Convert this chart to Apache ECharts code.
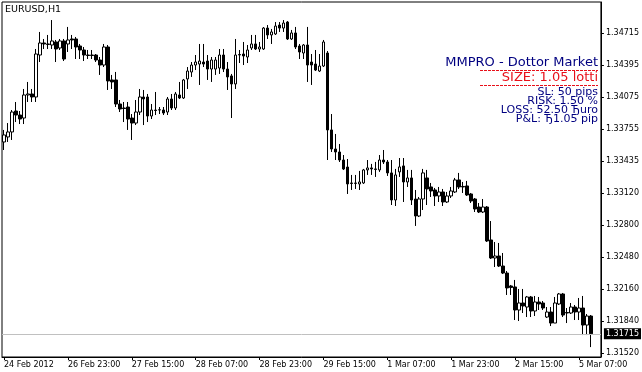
<!DOCTYPE html>
<html><head><meta charset="utf-8">
<script src="https://cdn.jsdelivr.net/npm/echarts@6/dist/echarts.min.js"></script>
<style>html,body{margin:0;padding:0;background:#fff}#c{width:642px;height:372px}</style>
</head><body><div id="c"></div>
<script>
const symbolTitle = 'EURUSD,H1';
const open = [1.33629,1.33679,1.33729,1.33938,1.33898,1.33868,1.34098,1.34108,1.34078,1.34497,
1.34617,1.34602,1.34597,1.34627,1.34567,1.34637,1.34607,1.34657,1.34657,1.34587,
1.34547,1.34497,1.34492,1.34497,1.34447,1.34397,1.34577,1.34248,1.34248,1.34008,
1.33968,1.33978,1.33868,1.33818,1.33928,1.34078,1.34078,1.33888,1.33948,1.33948,
1.33948,1.33928,1.34058,1.33968,1.34098,1.34068,1.34258,1.34327,1.34397,1.34407,
1.34427,1.34437,1.34357,1.34357,1.34367,1.34497,1.34357,1.34288,1.34208,1.34497,
1.34507,1.34477,1.34567,1.34607,1.34557,1.34557,1.34766,1.34697,1.34707,1.34796,
1.34766,1.34826,1.34657,1.34717,1.34587,1.34517,1.34597,1.34427,1.34407,1.34337,
1.34387,1.34517,1.33749,1.33559,1.33529,1.33449,1.33379,1.33220,1.33215,1.33210,
1.33220,1.33350,1.33370,1.33360,1.33350,1.33449,1.33429,1.33320,1.33050,1.33330,
1.33390,1.33230,1.33270,1.33060,1.32890,1.33060,1.33270,1.33180,1.33150,1.33090,
1.33130,1.33030,1.33090,1.33130,1.33250,1.33185,1.33190,1.33110,1.33060,1.32980,
1.32930,1.32980,1.32651,1.32471,1.32491,1.32391,1.32321,1.32192,1.32182,1.31952,
1.32022,1.31982,1.32082,1.31942,1.32032,1.32022,1.31882,1.31932,1.31822,1.32012,
1.32112,1.31927,1.31922,1.31982,1.31932,1.31972,1.31802,1.31892];
const close = [1.33699,1.33729,1.33928,1.33898,1.33858,1.34098,1.34108,1.34078,1.34507,1.34617,
1.34607,1.34607,1.34637,1.34557,1.34637,1.34457,1.34647,1.34647,1.34577,1.34547,
1.34497,1.34492,1.34497,1.34447,1.34397,1.34577,1.34238,1.34228,1.34008,1.33958,
1.33963,1.33858,1.33818,1.33928,1.34078,1.34058,1.33888,1.33948,1.33943,1.33951,
1.33918,1.34058,1.33968,1.34108,1.34068,1.34248,1.34337,1.34397,1.34427,1.34437,
1.34407,1.34357,1.34447,1.34447,1.34497,1.34357,1.34278,1.34208,1.34497,1.34502,
1.34487,1.34547,1.34607,1.34557,1.34577,1.34766,1.34697,1.34727,1.34786,1.34766,
1.34816,1.34657,1.34717,1.34577,1.34527,1.34597,1.34397,1.34397,1.34347,1.34387,
1.34627,1.33749,1.33559,1.33529,1.33449,1.33359,1.33210,1.33215,1.33220,1.33230,
1.33350,1.33370,1.33360,1.33355,1.33449,1.33429,1.33320,1.33050,1.33300,1.33380,
1.33230,1.33270,1.33050,1.32890,1.33060,1.33320,1.33160,1.33140,1.33090,1.33130,
1.33030,1.33090,1.33140,1.33250,1.33180,1.33180,1.33100,1.33040,1.32960,1.32930,
1.32980,1.32641,1.32471,1.32491,1.32391,1.32321,1.32172,1.32177,1.31952,1.32022,
1.31992,1.32082,1.31942,1.32032,1.32012,1.31972,1.31932,1.31822,1.32022,1.32112,
1.31902,1.31922,1.31982,1.31932,1.31972,1.31802,1.31892,1.31715];
const low = [1.33549,1.33629,1.33649,1.33828,1.33808,1.33808,1.34028,1.34028,1.34028,1.34427,
1.34557,1.34557,1.34557,1.34427,1.34547,1.34437,1.34527,1.34557,1.34457,1.34457,
1.34437,1.34457,1.34457,1.34427,1.34298,1.34377,1.34148,1.34158,1.33978,1.33928,
1.33828,1.33749,1.33649,1.33798,1.33898,1.33798,1.33828,1.33858,1.33898,1.33908,
1.33898,1.33898,1.33948,1.33948,1.34058,1.34058,1.34158,1.34278,1.34347,1.34198,
1.34377,1.34248,1.34228,1.34298,1.34308,1.34327,1.34148,1.33868,1.34158,1.34417,
1.34397,1.34417,1.34547,1.34547,1.34527,1.34547,1.34657,1.34607,1.34697,1.34727,
1.34727,1.34647,1.34647,1.34557,1.34457,1.34457,1.34228,1.34198,1.34337,1.34327,
1.34377,1.33449,1.33529,1.33449,1.33429,1.33349,1.33110,1.33150,1.33160,1.33150,
1.33210,1.33300,1.33300,1.33280,1.33330,1.33409,1.33290,1.33000,1.32990,1.33280,
1.33030,1.33180,1.33000,1.32791,1.32880,1.32950,1.33000,1.33080,1.32990,1.33030,
1.32990,1.33020,1.33070,1.33120,1.33160,1.33120,1.33090,1.33020,1.32930,1.32920,
1.32920,1.32631,1.32461,1.32381,1.32381,1.32311,1.32102,1.32102,1.31852,1.31842,
1.31922,1.31882,1.31882,1.31892,1.31952,1.31952,1.31872,1.31792,1.31822,1.32002,
1.31882,1.31822,1.31912,1.31852,1.31852,1.31702,1.31702,1.31582];
const high = [1.33749,1.33818,1.33948,1.34028,1.33938,1.34158,1.34228,1.34158,1.34557,1.34727,
1.34657,1.34697,1.34846,1.34647,1.34657,1.34657,1.34777,1.34697,1.34677,1.34607,
1.34577,1.34547,1.34547,1.34507,1.34477,1.34607,1.34597,1.34298,1.34328,1.34048,
1.34028,1.34028,1.33908,1.34048,1.34158,1.34148,1.34108,1.34008,1.34128,1.33978,
1.33978,1.34078,1.34108,1.34128,1.34228,1.34258,1.34377,1.34427,1.34497,1.34607,
1.34607,1.34497,1.34477,1.34477,1.34557,1.34557,1.34427,1.34308,1.34657,1.34547,
1.34627,1.34597,1.34697,1.34697,1.34627,1.34776,1.34796,1.34757,1.34826,1.34826,
1.34846,1.34836,1.34747,1.34777,1.34607,1.34607,1.34777,1.34507,1.34547,1.34507,
1.34647,1.34537,1.33908,1.33709,1.33609,1.33499,1.33459,1.33300,1.33300,1.33340,
1.33360,1.33449,1.33410,1.33430,1.33499,1.33549,1.33449,1.33449,1.33360,1.33469,
1.33469,1.33350,1.33350,1.33150,1.33080,1.33360,1.33350,1.33220,1.33170,1.33180,
1.33160,1.33130,1.33180,1.33270,1.33320,1.33230,1.33240,1.33120,1.33070,1.33020,
1.33060,1.32990,1.32840,1.32631,1.32621,1.32521,1.32341,1.32202,1.32252,1.32162,
1.32162,1.32092,1.32092,1.32092,1.32082,1.32042,1.31982,1.31982,1.32082,1.32122,
1.32122,1.31972,1.32022,1.32002,1.32072,1.32092,1.31912,1.31902];
const xTickIndex = [0,16,32,48,64,80,96,112,128,144];
const xTickLabels = ['24 Feb 2012','26 Feb 23:00','27 Feb 15:00','28 Feb 07:00','28 Feb 23:00',
  '29 Feb 15:00','1 Mar 07:00','1 Mar 23:00','2 Mar 15:00','5 Mar 07:00'];
const yTickValues = [1.34715,1.34395,1.34075,1.33755,1.33435,1.33120,1.32800,1.32480,1.32160,1.31840,1.31520];
const yMin = 1.31483, yMax = 1.35026;
const currentPrice = 1.31715;
const emptyBarsRight = 2;
const panelTitle = 'MMPRO - Dottor Market';
const panelSize = 'SIZE: 1.05 lotti';
const panelLines = ['SL: 50 pips','RISK: 1.50 %','LOSS: 52.50 Ђuro','P&L: Ђ1.05 pip'];

const FONT = '"DejaVu Sans", Verdana, sans-serif';
const categories = open.map((_, i) => 'b' + i);
for (let k = 0; k < emptyBarsRight; k++) categories.push('pad' + k);
const candles = open.map((o, i) => [o, close[i], low[i], high[i]]);
const tickLabelAt = {};
xTickIndex.forEach((idx, k) => { tickLabelAt[idx] = xTickLabels[k]; });
const isTick = (i) => tickLabelAt[i] !== undefined;

const NAVY = '#000080', RED = '#e8101a';
const graphics = [
  {type:'text', x:598, y:63, style:{text:panelTitle, fill:NAVY, font:'13px ' + FONT, align:'right', verticalAlign:'middle'}},
  {type:'line', shape:{x1:480, y1:70.5, x2:598, y2:70.5}, style:{stroke:RED, lineWidth:1, lineDash:[3,1]}},
  {type:'text', x:598, y:78, style:{text:panelSize, fill:RED, font:'13px ' + FONT, align:'right', verticalAlign:'middle'}},
  {type:'line', shape:{x1:480, y1:85.5, x2:598, y2:85.5}, style:{stroke:RED, lineWidth:1, lineDash:[3,1]}}
];
const lineY = [92, 101, 110, 119.5];
panelLines.forEach((t, k) => graphics.push({type:'text', x:598, y:lineY[k],
  style:{text:t, fill:NAVY, font:'11px ' + FONT, align:'right', verticalAlign:'middle'}}));

const chart = echarts.init(document.getElementById('c'), null, {renderer:'canvas'});
chart.setOption({
  animation: false,
  backgroundColor: '#fff',
  title: {text: symbolTitle, left: 5, top: 5, padding: 0,
    textStyle: {fontSize: 9.5, fontWeight: 'normal', fontFamily: FONT, color: '#000'}},
  grid: {left: 2, right: 40, top: 2, bottom: 15, show: true, borderColor: '#000', borderWidth: 1, backgroundColor: '#fff'},
  xAxis: {
    type: 'category', data: categories, boundaryGap: true,
    axisLine: {show: true, lineStyle: {color: '#000'}},
    axisTick: {show: true, alignWithLabel: true, length: 3, interval: (i) => isTick(i), lineStyle: {color: '#000'}},
    axisLabel: {show: true, interval: (i) => isTick(i), formatter: (v, i) => tickLabelAt[i] || '',
      align: 'left', margin: 4, color: '#000', fontSize: 8, fontFamily: FONT},
    splitLine: {show: false}
  },
  yAxis: {
    type: 'value', position: 'right', min: yMin, max: yMax, scale: true,
    axisLine: {show: true, lineStyle: {color: '#000'}},
    axisTick: {show: true, length: 3, customValues: yTickValues, lineStyle: {color: '#000'}},
    axisLabel: {show: true, customValues: yTickValues, formatter: (v) => v.toFixed(5),
      margin: 5, color: '#000', fontSize: 8, fontFamily: FONT},
    splitLine: {show: false}
  },
  series: [
    {
      type: 'line', data: [], silent: true, z: 1,
      markLine: {
        silent: true, symbol: ['none', 'none'], animation: false, precision: 5,
        lineStyle: {color: '#c0c0c0', type: 'solid', width: 1},
        label: {show: true, position: 'end', distance: 3, formatter: () => currentPrice.toFixed(5),
          backgroundColor: '#000', color: '#fff', padding: [2, 2, 1, 2], fontSize: 8, fontFamily: FONT},
        data: [{yAxis: currentPrice}]
      }
    },
    {
      type: 'candlestick', data: candles, barWidth: 3, z: 3,
      itemStyle: {color: '#fff', color0: '#000', borderColor: '#000', borderColor0: '#000', borderWidth: 1}
    }
  ],
  graphic: graphics
});
</script></body></html>
